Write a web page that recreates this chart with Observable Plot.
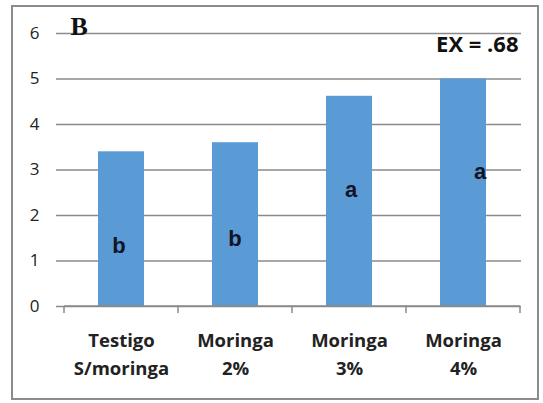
<!DOCTYPE html>
<html>
<head>
<meta charset="utf-8">
<script src="https://cdn.jsdelivr.net/npm/d3@7"></script>
<script src="https://cdn.jsdelivr.net/npm/@observablehq/plot@0.6"></script>
<style>
  html, body { margin: 0; padding: 0; background: #fff; }
  #wrap { position: relative; width: 543px; height: 403px; }
  #frame { position: absolute; left: 11px; top: 5px; width: 524px; height: 391px; border: 2px solid #8c8c8c; box-sizing: content-box; pointer-events: none; }
</style>
</head>
<body>
<div id="wrap"><div id="frame"></div></div>
<script>
const categories = ["Testigo\nS/moringa", "Moringa\n2%", "Moringa\n3%", "Moringa\n4%"];
const values = [3.4, 3.6, 4.62, 5.0];
const letters = ["b", "b", "a", "a"];
const letterHeights = [1.34, 1.49, 2.57, 2.97];
const letterShift = [-2, 0, 2, 17];
const yTicks = [0, 1, 2, 3, 4, 5, 6];
const panelLabel = "B";
const statLabel = "EX = .68";

const data = categories.map((c, i) => ({cat: c, v: values[i], letter: letters[i], ly: letterHeights[i], shift: letterShift[i]}));
const grid = "#8a8a8a";

const chart = Plot.plot({
  width: 543,
  height: 403,
  marginLeft: 63,
  marginRight: 22,
  marginTop: 33,
  marginBottom: 97,
  style: {fontFamily: "'Open Sans', Lato, sans-serif", background: "transparent", overflow: "visible"},
  x: {domain: categories, paddingInner: 0.6, paddingOuter: 0.3, label: null},
  y: {domain: [0, 6], label: null},
  marks: [
    Plot.ruleY(yTicks, {stroke: grid, strokeWidth: 1.5, strokeOpacity: 1}),
    Plot.axisY({ticks: yTicks, tickFormat: "d", tickSize: 7, tickPadding: 17, stroke: grid, strokeWidth: 1.5, fontSize: 17, fill: "#222", label: null}),
    Plot.barY(data, {x: "cat", y: "v", fill: "#5b9bd5"}),
    Plot.ruleX([0], {frameAnchor: "left", y1: 0, y2: 6, stroke: grid, strokeWidth: 1.5}),
    Plot.axisX({tickSize: 0, tickPadding: 21, fontSize: 18.5, fontWeight: "bold", fill: "#222", lineHeight: 1.5, label: null}),
    Plot.text([panelLabel], {frameAnchor: "top-left", dx: 7, dy: -17, fontSize: 26, fontWeight: "bold", fontFamily: "'Liberation Serif', 'DejaVu Serif', serif", fill: "#111"}),
    Plot.text([statLabel], {frameAnchor: "top-right", dx: -3, dy: 3, fontSize: 22, fontWeight: "bold", fill: "#111"})
  ]
});
document.getElementById("wrap").prepend(chart);

// x axis baseline, category boundary ticks and significance letters through the library's scales
const xs = chart.scale("x");
const ys = chart.scale("y");
const svg = d3.select(chart);
const y0 = ys.apply(0);
const starts = categories.map(c => xs.apply(c));
const bounds = starts.map(s => s + xs.bandwidth / 2 - xs.step / 2);
bounds.push(starts[starts.length - 1] + xs.bandwidth / 2 + xs.step / 2);
const g = svg.append("g").attr("stroke", grid).attr("stroke-width", 1.5);
g.append("line").attr("x1", bounds[0]).attr("x2", bounds[bounds.length - 1]).attr("y1", y0).attr("y2", y0);
bounds.forEach(b => g.append("line").attr("x1", b).attr("x2", b).attr("y1", y0).attr("y2", y0 + 7));

svg.append("g")
  .attr("font-family", "'Liberation Sans', Arial, sans-serif")
  .attr("font-size", 22)
  .attr("font-weight", "bold")
  .attr("fill", "#141428")
  .attr("text-anchor", "middle")
  .selectAll("text")
  .data(data)
  .join("text")
  .attr("x", d => xs.apply(d.cat) + xs.bandwidth / 2 + d.shift)
  .attr("y", d => ys.apply(d.ly))
  .attr("dy", "0.35em")
  .text(d => d.letter);
</script>
</body>
</html>
